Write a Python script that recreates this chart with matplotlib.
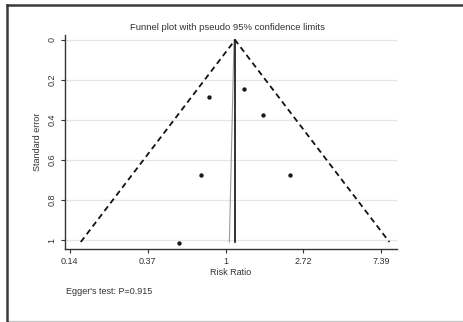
import numpy as np
import matplotlib
matplotlib.use("Agg")
import matplotlib.pyplot as plt

plt.rcParams['font.family'] = ['Liberation Sans', 'DejaVu Sans']

# study estimates (log risk ratio, standard error)
log_rr = [-0.21, 0.24, 0.48, -0.31, 0.83, -0.60]
se = [0.285, 0.245, 0.375, 0.675, 0.675, 1.015]

pooled_log_rr = 0.122
se_max = 1.01
# thin grey line near the pooled estimate
grey_log_rr = [0.049, 0.109]
grey_se = [1.01, 0.0]

tick_vals = [-2, -1, 0, 1, 2]
tick_labels = ["0.14", "0.37", "1", "2.72", "7.39"]
ytick_vals = [0, 0.2, 0.4, 0.6, 0.8, 1]
ytick_labels = ["0", "0.2", "0.4", "0.6", "0.8", "1"]

fig = plt.figure(figsize=(4.64, 3.22), dpi=100)

# outer frame: dark left/top, light bottom
fig.add_artist(plt.Line2D([7/464, 464/464], [1-320.5/322, 1-320.5/322], transform=fig.transFigure,
                          color='#c8c8c8', linewidth=1.0))
fig.add_artist(plt.Line2D([7/464, 7/464], [1-321/322, 1-5/322], transform=fig.transFigure,
                          color='#3a3a3a', linewidth=1.8))
fig.add_artist(plt.Line2D([7/464, 464/464], [1-5/322, 1-5/322], transform=fig.transFigure,
                          color='#3a3a3a', linewidth=1.8))

ax = fig.add_axes([65/464, 1-249/322, (397-65)/464, (249-35)/322])

x = np.exp(log_rr)
ax.scatter(x, se, s=10, color='#1a1a1a', zorder=4, linewidths=0)

# pseudo 95% limits
lo = np.exp(pooled_log_rr - 1.96*se_max)
hi = np.exp(pooled_log_rr + 1.96*se_max)
apex = np.exp(pooled_log_rr)
ax.plot([lo, apex, hi], [se_max, 0, se_max], color='#111111', linestyle=(0, (3.2, 2.2)),
        linewidth=1.3, zorder=3)
ax.plot([apex, apex], [0, se_max], color='#111111', linewidth=1.2, zorder=3)
ax.plot(np.exp(grey_log_rr), grey_se, color='#999999', linewidth=0.8, zorder=2)

ax.set_xscale('log')
ax.set_xlim(np.exp(-2.06), np.exp(2.2))
ax.set_ylim(1.045, -0.025)
ax.set_xticks(np.exp(tick_vals))
ax.set_xticklabels(tick_labels)
ax.xaxis.set_minor_locator(matplotlib.ticker.NullLocator())
ax.set_yticks(ytick_vals)
ax.set_yticklabels(ytick_labels, rotation=90, va='center')

for y in ytick_vals:
    ax.axhline(y, color='#e6e6e6', linewidth=0.9, zorder=0)

for s in ['top', 'right']:
    ax.spines[s].set_visible(False)
for s in ['left', 'bottom']:
    ax.spines[s].set_color('#333333')
    ax.spines[s].set_linewidth(1.0)
ax.tick_params(axis='both', labelsize=6.5, length=3, width=0.8, colors='#333333', pad=3)

ax.set_xlabel("Risk Ratio", fontsize=6.5, color='#333333', labelpad=1)
ax.set_ylabel("Standard error", fontsize=6.5, color='#333333', labelpad=4)
fig.text(228/464, 1-28/322, "Funnel plot with pseudo 95% confidence limits", fontsize=6.8,
         color='#333333', ha='center', va='center')
fig.text(66/464, 1-292/322, "Egger's test: P=0.915", fontsize=6.5, color='#333333',
         ha='left', va='center')

fig.savefig("out.png", dpi=100)
